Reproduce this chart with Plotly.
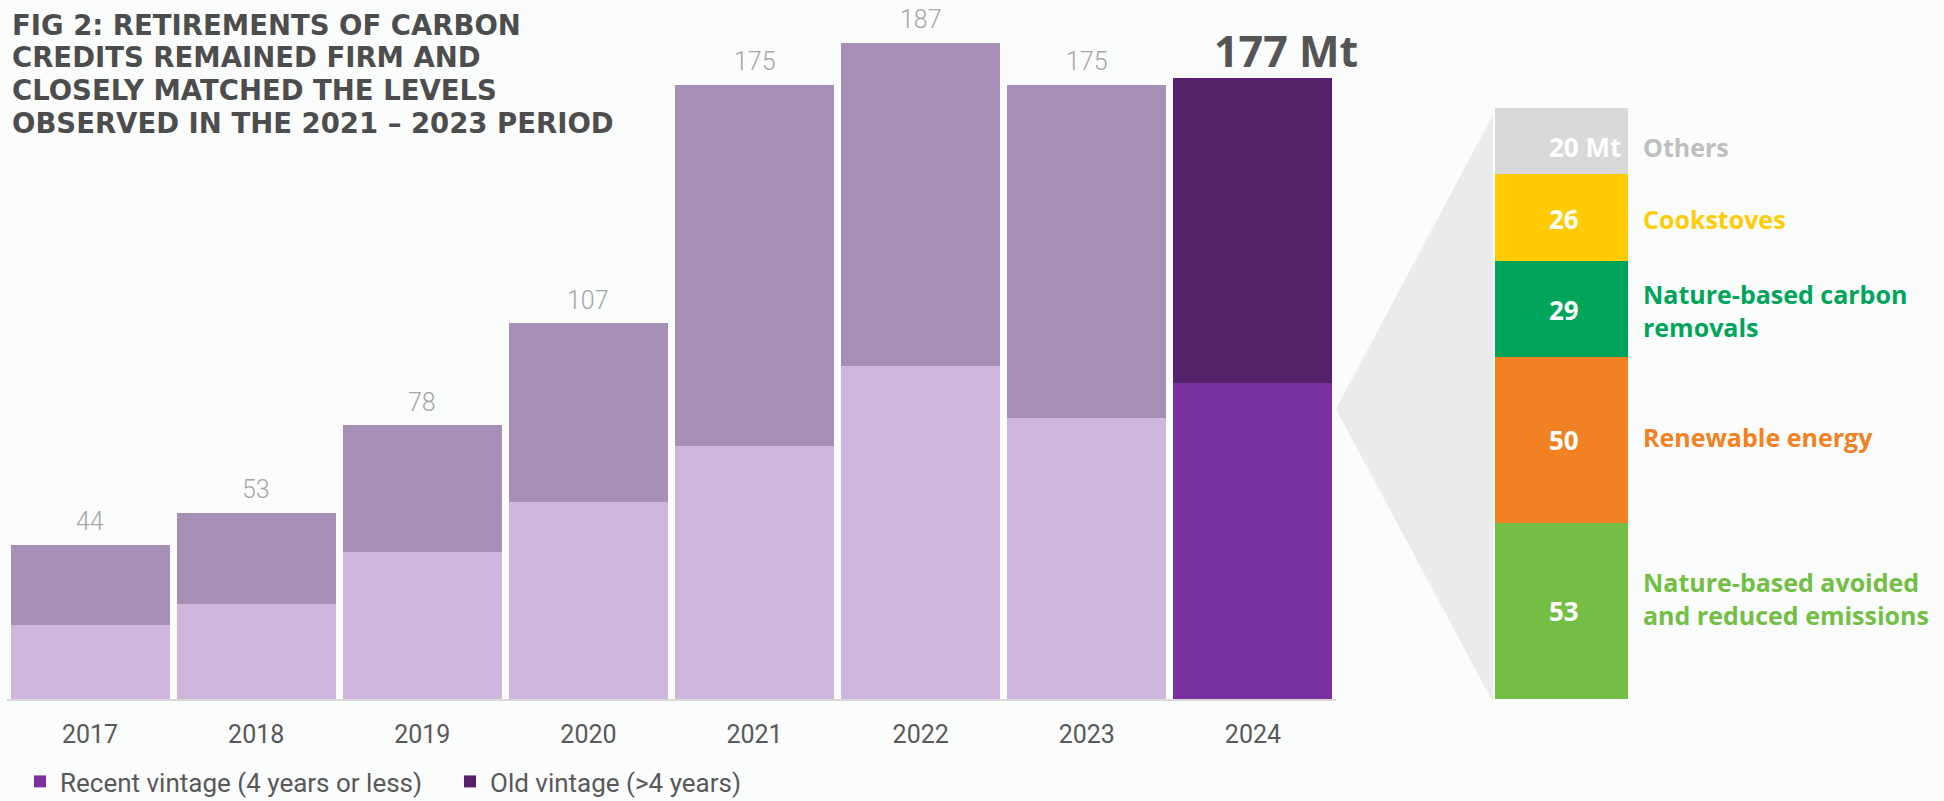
import plotly.graph_objects as go

# ---------------- data ----------------
years = ["2017", "2018", "2019", "2020", "2021", "2022", "2023", "2024"]
totals = [44, 53, 78, 107, 175, 187, 175, 177]
recent = [21, 27, 42, 56, 72, 95, 80, 90]
old = [t - r for t, r in zip(totals, recent)]

segment_names = ["Nature-based avoided and reduced emissions", "Renewable energy",
                 "Nature-based carbon removals", "Cookstoves", "Others"]
segment_labels = ["Nature-based avoided<br>and reduced emissions", "Renewable energy",
                  "Nature-based carbon<br>removals", "Cookstoves", "Others"]
segment_values = [53, 50, 29, 26, 20]
segment_text = ["53", "50", "29", "26", "20 Mt"]

title_lines = ["FIG 2: RETIREMENTS OF CARBON", "CREDITS REMAINED FIRM AND",
               "CLOSELY MATCHED THE LEVELS", "OBSERVED IN THE 2021 – 2023 PERIOD"]

# ---------------- styles ----------------
W, H = 1944, 801
BASE_PX = 699
Y0 = (H - BASE_PX) / H
MAIN_PX_PER_UNIT = 3.51
RIGHT_PX_PER_UNIT = 3.32
BG = "#FBFCFC"
seg_colors = ["#73BF45", "#F28123", "#00A55B", "#FFCB05", "#D9D9D9"]
seg_label_colors = ["#73BF45", "#F28123", "#00A55B", "#FFCB05", "#BFBFBF"]
seg_label_shift = [13, 3, -2, -1, -6]
seg_num_shift = [0, 0, -1, -1, -6]

hist = years[:-1]
last = years[-1]
last_idx = len(years) - 1

fig = go.Figure()
fig.add_trace(go.Bar(x=hist, y=recent[:-1], marker=dict(color="#CEB6DC", line=dict(width=0)),
                     width=0.957, showlegend=False, hoverinfo="skip"))
fig.add_trace(go.Bar(x=[last], y=[recent[-1]], name="Recent vintage (4 years or less)",
                     marker=dict(color="#7B309F", line=dict(width=0)), width=0.957))
fig.add_trace(go.Bar(x=hist, y=old[:-1], marker=dict(color="#A690B6", line=dict(width=0)),
                     width=0.957, showlegend=False, hoverinfo="skip"))
fig.add_trace(go.Bar(x=[last], y=[old[-1]], name="Old vintage (>4 years)",
                     marker=dict(color="#55216B", line=dict(width=0)), width=0.957))

for name, v, c in zip(segment_names, segment_values, seg_colors):
    fig.add_trace(go.Bar(x=[last], y=[v], name=name, xaxis="x2", yaxis="y2",
                         marker=dict(color=c, line=dict(width=0)), width=1.0,
                         showlegend=False))

annotations = []
# totals above historic bars (category axes take the category index)
for i, t in enumerate(totals[:-1]):
    annotations.append(dict(x=i, y=t, xref="x", yref="y", text=str(t), showarrow=False,
                            yanchor="middle", yshift=23,
                            font=dict(family="Roboto", size=25, color="#A6A6A6", weight=300)))
annotations.append(dict(x=last_idx, y=totals[-1], xref="x", yref="y", text=f"{totals[-1]} Mt",
                        showarrow=False, yanchor="middle", yshift=27, xshift=33,
                        font=dict(family="Open Sans", size=43, color="#555555", weight=700)))

# right breakdown labels
cum = 0
for v, txt, lab, lc, ls, ns in zip(segment_values, segment_text, segment_labels,
                                   seg_label_colors, seg_label_shift, seg_num_shift):
    mid = cum + v / 2
    annotations.append(dict(x=0, y=mid, xref="x2", yref="y2", text=txt, showarrow=False,
                            xanchor="left", xshift=-15, yanchor="middle", yshift=ns,
                            font=dict(family="Open Sans", size=26, color="white", weight=700)))
    annotations.append(dict(x=0.5, y=mid, xref="x2", yref="y2", text=lab, showarrow=False,
                            xanchor="left", xshift=13, yanchor="middle", yshift=ls, align="left",
                            font=dict(family="Open Sans", size=25, color=lc, weight=700)))
    cum += v

# title
for i, line in enumerate(title_lines):
    annotations.append(dict(x=11 / W, y=1 - (25 + 32.5 * i) / H, xref="paper", yref="paper",
                            text=line, showarrow=False, xanchor="left", yanchor="middle",
                            borderpad=0,
                            font=dict(family="DejaVu Sans", size=27.5, color="#4D4D4D",
                                      weight=700)))

x_dom = [7 / W, 1336 / W]
x2_dom = [1495 / W, 1628 / W]

# connector triangle between the 2024 bar and the breakdown
apex_x = x_dom[1]
apex_y = (H - 409) / H
top_y = (H - 115) / H
bot_y = (H - 702) / H
tri_x = 1493 / W
shapes = [dict(type="path", xref="paper", yref="paper",
               path=f"M {apex_x},{apex_y} L {tri_x},{top_y} L {tri_x},{bot_y} Z",
               fillcolor="#EAEBEB", line=dict(width=0), layer="below")]

fig.update_layout(
    width=W, height=H,
    margin=dict(l=0, r=0, t=0, b=0, autoexpand=False),
    paper_bgcolor=BG, plot_bgcolor=BG,
    barmode="stack",
    showlegend=True,
    legend=dict(orientation="h", x=20 / W, y=-0.005, xanchor="left", yanchor="bottom",
                traceorder="normal", font=dict(family="Roboto", size=26, color="#595959"),
                bgcolor="rgba(0,0,0,0)", entrywidth=385, entrywidthmode="pixels"),
    xaxis=dict(domain=x_dom, type="category", categoryorder="array", categoryarray=years,
               range=[-0.5, len(years) - 0.5], showgrid=False, zeroline=False,
               showline=True, linecolor="#D9D9D9", linewidth=2, ticks="",
               ticklabelstandoff=12, automargin=False,
               tickfont=dict(family="Roboto", size=25, color="#595959")),
    yaxis=dict(domain=[Y0, 1], range=[0, BASE_PX / MAIN_PX_PER_UNIT], visible=False,
               showgrid=False, zeroline=False),
    xaxis2=dict(domain=x2_dom, anchor="y2", type="category", range=[-0.5, 0.5],
                visible=False, showgrid=False, zeroline=False),
    yaxis2=dict(domain=[Y0, 1], anchor="x2", range=[0, BASE_PX / RIGHT_PX_PER_UNIT],
                visible=False, showgrid=False, zeroline=False),
    annotations=annotations,
    shapes=shapes,
)

fig.write_html("out.html")
